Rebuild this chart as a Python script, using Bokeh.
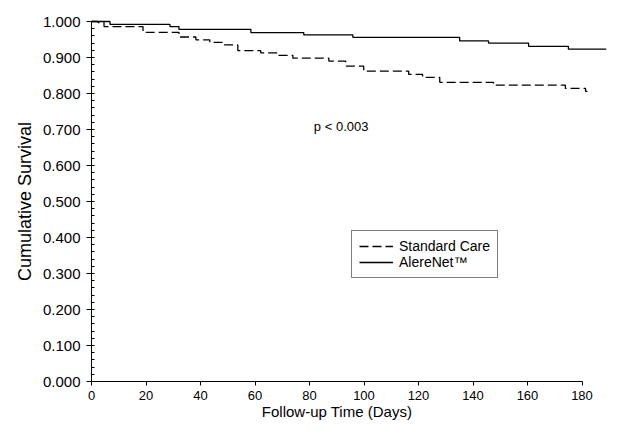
from bokeh.plotting import figure
from bokeh.models import (Range1d, FixedTicker, PrintfTickFormatter, Legend,
                          LegendItem, Label)
from bokeh.embed import file_html
from bokeh.resources import INLINE

# Standard Care (dashed) Kaplan-Meier steps
sc_days = [0, 2.4, 4.6, 18.9, 32.1, 38.3, 43.4, 48.6, 53.7, 62.1, 68.7, 73.9,
           87.1, 93.3, 99.9, 116.4, 121.5, 127.8, 147.5, 173.9, 181.3, 182.0]
sc_surv = [1.000, 0.997, 0.986, 0.970, 0.957, 0.949, 0.942, 0.935, 0.919,
           0.913, 0.906, 0.898, 0.890, 0.876, 0.862, 0.853, 0.845, 0.831,
           0.823, 0.814, 0.806, 0.806]

# AlereNet (solid) Kaplan-Meier steps
al_days = [0, 6.8, 28.8, 32.1, 58.5, 77.9, 95.9, 135.1, 145.7, 160.4, 175.0, 188.9]
al_surv = [1.000, 0.992, 0.986, 0.978, 0.969, 0.963, 0.956, 0.946, 0.940,
           0.931, 0.923, 0.923]

x_ticks = [0, 20, 40, 60, 80, 100, 120, 140, 160, 180]
y_ticks = [0.0, 0.1, 0.2, 0.3, 0.4, 0.5, 0.6, 0.7, 0.8, 0.9, 1.0]
y_minor = [round(i * 0.02, 2) for i in range(51)]

FONT = "Liberation Sans"
PX_X = 2.725   # pixels per day
PX_Y = 360.0   # pixels per unit survival

# the frame fills the canvas; both axes are pinned at 0
p = figure(width=610, height=421, output_backend="svg", toolbar_location=None,
           x_range=Range1d(-91 / PX_X, (610 - 91) / PX_X),
           y_range=Range1d(-40 / PX_Y, 1 + 21 / PX_Y),
           min_border_left=0, min_border_right=0, min_border_top=0,
           min_border_bottom=0)
p.outline_line_color = None
p.xgrid.visible = False
p.ygrid.visible = False
p.background_fill_color = "white"
p.border_fill_color = "white"

p.step(sc_days, sc_surv, mode="after", line_color="black", line_width=1.3,
       line_dash="9 4", name="sc")
p.step(al_days, al_surv, mode="after", line_color="black", line_width=1.3,
       name="al")

sc_r = p.select(name="sc")[0]
al_r = p.select(name="al")[0]

xa = p.xaxis[0]
xa.fixed_location = 0
xa.ticker = FixedTicker(ticks=x_ticks)
xa.bounds = (0, 180)
xa.major_tick_out = 4
xa.major_tick_in = 0
xa.minor_tick_out = 0
xa.minor_tick_in = 0
xa.major_label_standoff = 5
xa.major_label_text_font = FONT
xa.major_label_text_font_size = "13px"
xa.major_label_text_color = "black"
xa.axis_label = "Follow-up Time (Days)"
xa.axis_label_text_font = FONT
xa.axis_label_text_font_size = "15px"
xa.axis_label_text_font_style = "normal"
xa.axis_label_text_color = "black"
xa.axis_label_standoff = 0
xa.axis_line_color = "black"

ya = p.yaxis[0]
ya.fixed_location = 0
ya.ticker = FixedTicker(ticks=y_ticks, minor_ticks=y_minor)
ya.formatter = PrintfTickFormatter(format="%.3f")
ya.bounds = (0, 1)
ya.major_tick_out = 5
ya.major_tick_in = 0
ya.minor_tick_out = 0
ya.minor_tick_in = 3
ya.major_label_standoff = 6
ya.major_label_text_font = FONT
ya.major_label_text_font_size = "15px"
ya.major_label_text_color = "black"
ya.axis_label = "Cumulative Survival"
ya.axis_label_text_font = FONT
ya.axis_label_text_font_size = "18px"
ya.axis_label_text_font_style = "normal"
ya.axis_label_text_color = "black"
ya.axis_label_standoff = 5
ya.axis_line_color = "black"

legend = Legend(items=[LegendItem(label="Standard Care", renderers=[sc_r]),
                       LegendItem(label="AlereNet™", renderers=[al_r])],
                location=(351, 143))
legend.border_line_color = "black"
legend.border_line_width = 1
legend.background_fill_color = "white"
legend.background_fill_alpha = 1
legend.label_text_font = FONT
legend.label_text_font_size = "14px"
legend.label_text_color = "black"
legend.label_height = 14
legend.glyph_height = 14
legend.glyph_width = 34
legend.label_standoff = 6
legend.spacing = 0
legend.padding = 7
legend.margin = 0
p.add_layout(legend)

p.add_layout(Label(x=81.6, y=0.708, text="p < 0.003", text_font=FONT,
                   text_font_size="13px", text_baseline="middle",
                   text_color="black"))

open("out.html", "w").write(file_html(p, INLINE))
